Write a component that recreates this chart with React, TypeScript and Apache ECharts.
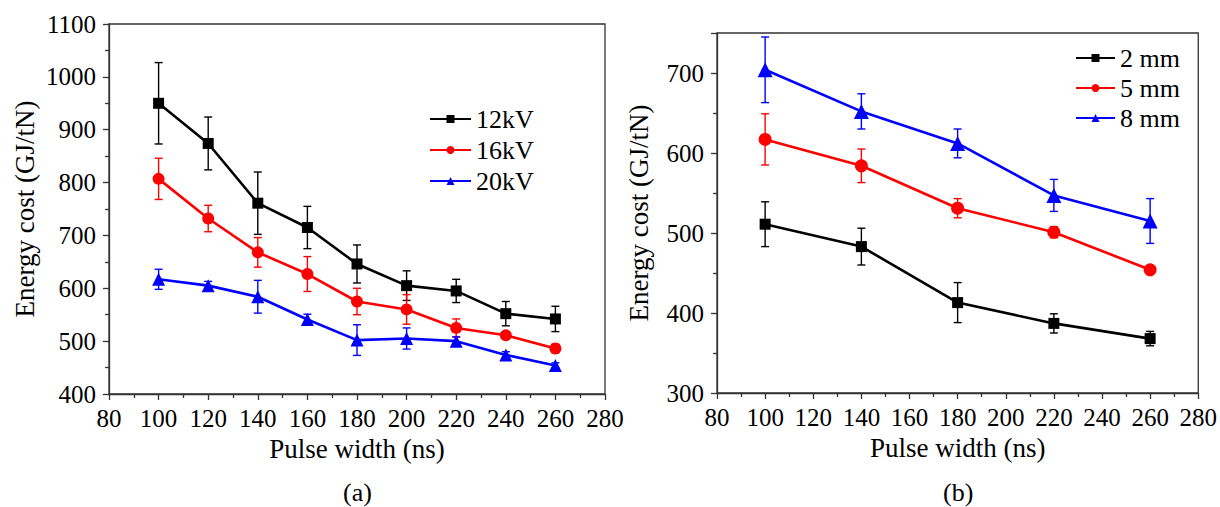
import React, { useEffect, useRef } from "react";
import * as echarts from "echarts";

const xTicksLabel = "Pulse width (ns)";
const yName = "Energy cost (GJ/tN)";

const xLeft = [100, 120, 140, 160, 180, 200, 220, 240, 260];
const kv12 = [950, 874, 761, 715, 646, 605, 595, 552, 542];
const kv12Err = [77, 50, 59, 40, 36, 28, 22, 23, 24];
const kv16 = [807, 732, 668, 627, 575, 560, 525, 511, 486];
const kv16Err = [39, 25, 28, 33, 25, 28, 17, 6, 8];
const kv20 = [617, 605, 584, 541, 502, 505, 500, 474, 454];
const kv20Err = [19, 8, 31, 10, 29, 20, 8, 6, 5];

const xRight = [100, 140, 180, 220, 260];
const mm2 = [511, 483, 413, 387, 368];
const mm2Err = [28, 23, 25, 12, 9];
const mm5 = [617, 584, 531, 501, 454];
const mm5Err = [32, 21, 12, 7, 5];
const mm8 = [704, 652, 612, 547, 515];
const mm8Err = [41, 22, 18, 20, 28];

const leftNames = ["12kV", "16kV", "20kV"];
const rightNames = ["2 mm", "5 mm", "8 mm"];
const colors = ["#000000", "#ff0000", "#0000ff"];
const symbols = ["rect", "circle", "triangle"];

const FONT = "Liberation Serif";
const TICK_FS = 25;
const NAME_FS = 27;
const LEG_FS = 26;

function lineSeries(name, xs, ys, idx, gi, sizes) {
  return {
    type: "line",
    name,
    xAxisIndex: gi,
    yAxisIndex: gi,
    data: xs.map((x, i) => [x, ys[i]]),
    symbol: symbols[idx],
    symbolSize: sizes[idx],
    lineStyle: { color: colors[idx], width: 2.6 },
    itemStyle: { color: colors[idx] },
    z: 3,
  };
}

function errSeries(xs, ys, es, idx, gi) {
  const color = colors[idx];
  return {
    type: "custom",
    xAxisIndex: gi,
    yAxisIndex: gi,
    data: xs.map((x, i) => [x, ys[i] - es[i], ys[i] + es[i]]),
    encode: { x: 0, y: [1, 2] },
    z: 4,
    renderItem: (params, api) => {
      const x = api.value(0);
      const lo = api.coord([x, api.value(1)]);
      const hi = api.coord([x, api.value(2)]);
      const w = 4;
      const style = { stroke: color, lineWidth: 1.4 };
      return {
        type: "group",
        children: [
          { type: "line", shape: { x1: lo[0], y1: lo[1], x2: hi[0], y2: hi[1] }, style },
          { type: "line", shape: { x1: lo[0] - w, y1: lo[1], x2: lo[0] + w, y2: lo[1] }, style },
          { type: "line", shape: { x1: hi[0] - w, y1: hi[1], x2: hi[0] + w, y2: hi[1] }, style },
        ],
      };
    },
  };
}

const axisCommon = {
  axisLine: { show: true, lineStyle: { color: "#333", width: 1.3 } },
  axisTick: { show: true, inside: false, length: 6, lineStyle: { color: "#333", width: 1.3 } },
  minorTick: { show: true, splitNumber: 2, length: 4, lineStyle: { color: "#333", width: 1.3 } },
  splitLine: { show: false },
  nameLocation: "middle",
  nameTextStyle: { fontFamily: FONT, fontSize: NAME_FS, color: "#000" },
};

function xAxis(gi) {
  return {
    ...axisCommon,
    type: "value",
    gridIndex: gi,
    min: 80,
    max: 280,
    interval: 20,
    name: xTicksLabel,
    nameGap: 41,
    axisLabel: { fontFamily: FONT, fontSize: TICK_FS, color: "#000", margin: 12, formatter: (v) => String(v) },
  };
}

function yAxis(gi, min, max, gap, hide) {
  return {
    ...axisCommon,
    type: "value",
    gridIndex: gi,
    min,
    max,
    interval: 100,
    name: yName,
    nameGap: gap,
    axisLabel: {
      fontFamily: FONT,
      fontSize: TICK_FS,
      color: "#000",
      margin: 13,
      formatter: (v) => (hide !== undefined && v === hide ? "" : String(v)),
    },
  };
}

export default function App() {
  const ref = useRef(null);
  useEffect(() => {
    const chart = echarts.init(ref.current, null, { renderer: "svg" });
    const leftSizes = [11, 12, 13];
    const rightSizes = [11, 13, 15];
    const option = {
      animation: false,
      backgroundColor: "#fff",
      grid: [
        { left: 109, right: 615, top: 24, bottom: 113, show: true, borderColor: "#333", borderWidth: 1.3 },
        { left: 717, right: 21, top: 33, bottom: 114, show: true, borderColor: "#333", borderWidth: 1.3 },
      ],
      xAxis: [xAxis(0), xAxis(1)],
      yAxis: [yAxis(0, 400, 1100, 71), yAxis(1, 300, 750, 65, 750)],
      legend: [
        {
          data: leftNames,
          orient: "vertical",
          left: 429,
          top: 106,
          padding: 0,
          itemWidth: 41,
          itemHeight: 10,
          itemGap: 5,
          textStyle: { fontFamily: FONT, fontSize: LEG_FS, color: "#000" },
        },
        {
          data: rightNames,
          orient: "vertical",
          left: 1075,
          top: 45,
          padding: 0,
          itemWidth: 39,
          itemHeight: 10,
          itemGap: 4,
          textStyle: { fontFamily: FONT, fontSize: LEG_FS, color: "#000" },
        },
      ],
      graphic: [
        { type: "text", left: 343, top: 479, style: { text: "(a)", fontFamily: FONT, fontSize: 26, fill: "#000" } },
        { type: "text", left: 943, top: 479, style: { text: "(b)", fontFamily: FONT, fontSize: 26, fill: "#000" } },
      ],
      series: [
        lineSeries(leftNames[0], xLeft, kv12, 0, 0, leftSizes),
        lineSeries(leftNames[1], xLeft, kv16, 1, 0, leftSizes),
        lineSeries(leftNames[2], xLeft, kv20, 2, 0, leftSizes),
        errSeries(xLeft, kv12, kv12Err, 0, 0),
        errSeries(xLeft, kv16, kv16Err, 1, 0),
        errSeries(xLeft, kv20, kv20Err, 2, 0),
        lineSeries(rightNames[0], xRight, mm2, 0, 1, rightSizes),
        lineSeries(rightNames[1], xRight, mm5, 1, 1, rightSizes),
        lineSeries(rightNames[2], xRight, mm8, 2, 1, rightSizes),
        errSeries(xRight, mm2, mm2Err, 0, 1),
        errSeries(xRight, mm5, mm5Err, 1, 1),
        errSeries(xRight, mm8, mm8Err, 2, 1),
      ],
    };
    chart.setOption(option);
    return () => chart.dispose();
  }, []);
  return (
    <div
      ref={ref}
      style={{ position: "absolute", left: 0, top: 0, width: 1220, height: 507 }}
    />
  );
}
